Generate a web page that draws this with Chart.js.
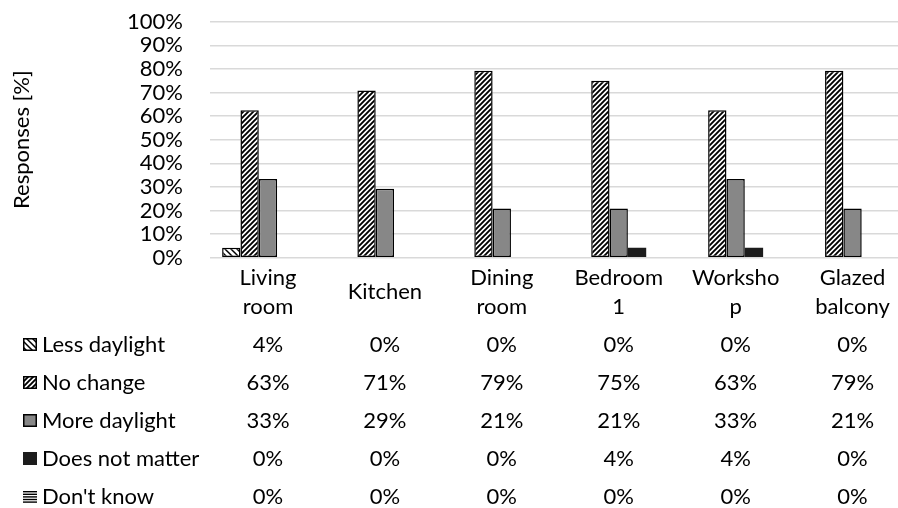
<!DOCTYPE html>
<html><head><meta charset="utf-8">
<script src="https://cdn.jsdelivr.net/npm/chart.js@4"></script>
<style>
html,body{margin:0;padding:0;overflow:hidden;background:#fff;width:898px;height:508px}
#wrap{width:920px;height:508px;}
</style></head><body><div id="wrap"><canvas id="c" width="920" height="508"></canvas></div>
<script>
// ---- data ----
const categories = [["Living","room"],["Kitchen"],["Dining","room"],["Bedroom","1"],["Worksho","p"],["Glazed","balcony"]];
const seriesNames = ["Less daylight","No change","More daylight","Does not matter","Don't know"];
const lessDaylight  = [4.2, 0, 0, 0, 0, 0];
const noChange      = [62.5, 70.8, 79.2, 75.0, 62.5, 79.2];
const moreDaylight  = [33.3, 29.2, 20.8, 20.8, 33.3, 20.8];
const doesNotMatter = [0, 0, 0, 4.2, 4.2, 0];
const dontKnow      = [0, 0, 0, 0, 0, 0];
const yTicks = [0,10,20,30,40,50,60,70,80,90,100];
const yTitle = "Responses [%]";

const FONT = 'Lato';
const FS = 22;

function diagPattern(size, width, dir){
  const c=document.createElement('canvas'); c.width=c.height=size;
  const g=c.getContext('2d'); g.fillStyle='#fff'; g.fillRect(0,0,size,size);
  g.strokeStyle='#000'; g.lineWidth=width; g.lineCap='square';
  g.beginPath();
  if(dir==='up'){
    g.moveTo(0,size); g.lineTo(size,0);
    g.moveTo(-size/2,size/2); g.lineTo(size/2,-size/2);
    g.moveTo(size/2,size*1.5); g.lineTo(size*1.5,size/2);
  } else {
    g.moveTo(0,0); g.lineTo(size,size);
    g.moveTo(-size/2,size/2); g.lineTo(size/2,size*1.5);
    g.moveTo(size/2,-size/2); g.lineTo(size*1.5,size/2);
  }
  g.stroke();
  return c;
}
function horizPattern(){
  const c=document.createElement('canvas'); c.width=4; c.height=3;
  const g=c.getContext('2d'); g.fillStyle='#fff'; g.fillRect(0,0,4,3);
  g.fillStyle='#000'; g.fillRect(0,0,4,1.5);
  return c;
}

function start(){
  const canvas=document.getElementById('c');
  const ctx=canvas.getContext('2d');
  const pLess = ctx.createPattern(diagPattern(6,1.5,'down'),'repeat');
  const pNo   = ctx.createPattern(diagPattern(5,1.9,'up'),'repeat');
  const pDk   = ctx.createPattern(horizPattern(),'repeat');
  const styles = [
    {bg:pLess, border:'#000', bw:1.5, key:'less'},
    {bg:pNo, border:'#000', bw:1.5, key:'no'},
    {bg:'#878787', border:'#000', bw:1.5, key:'more'},
    {bg:'#1c1c1c', border:'#1c1c1c', bw:0, key:'dnm'},
    {bg:pDk, border:'#000', bw:1.5, key:'dk'}
  ];
  const seriesData=[lessDaylight,noChange,moreDaylight,doesNotMatter,dontKnow];

  const tablePlugin={
    id:'tablePlugin',
    afterDraw(chart){
      const g=chart.ctx, xs=chart.scales.x;
      g.save();
      g.font=FS+'px '+FONT; g.fillStyle='#000'; g.textBaseline='middle'; g.textAlign='center';
      categories.forEach((lines,i)=>{
        const x=xs.getPixelForValue(i);
        lines.forEach((t,j)=>g.fillText(t,x,292+(j-(lines.length-1)/2)*29));
      });
      seriesData.forEach((arr,r)=>{
        const y=345+r*38;
        g.textAlign='center';
        arr.forEach((v,i)=>g.fillText(Math.round(v)+'%', xs.getPixelForValue(i), y));
        g.textAlign='left';
        g.fillText(seriesNames[r],42,y);
        const s=styles[r]; const kx=23, ky=y-7, kw=14, kh=13;
        if(s.key==='dk'){
          g.fillStyle='#000';
          for(let k=0;k<5;k++) g.fillRect(kx,ky+1+k*2.6,kw,1.4);
        } else if(s.key==='dnm'){
          g.fillStyle=s.bg; g.fillRect(kx,ky,kw,kh);
        } else {
          g.fillStyle=s.bg; g.fillRect(kx,ky,kw,kh);
          g.strokeStyle='#000'; g.lineWidth=1.5; g.strokeRect(kx+0.75,ky+0.75,kw-1.5,kh-1.5);
        }
        g.fillStyle='#000';
      });
      g.restore();
    }
  };

  new Chart(canvas,{
    type:'bar',
    data:{
      labels:categories.map(l=>l.join(' ')),
      datasets:seriesData.map((d,i)=>({
        label:seriesNames[i], data:d,
        backgroundColor:styles[i].bg, borderColor:styles[i].border, borderWidth:styles[i].bw,
        borderSkipped:false,
        categoryPercentage:0.784, barPercentage:1.0
      }))
    },
    options:{
      responsive:false, animation:false, devicePixelRatio:1,
      layout:{padding:{left:0,top:21.7,right:9,bottom:250.3}},
      plugins:{legend:{display:false},tooltip:{enabled:false}},
      scales:{
        x:{
          grid:{display:false}, border:{display:false},
          ticks:{display:false},
          afterFit(scale){ scale.height=0; scale.paddingLeft=0; scale.paddingRight=0; }
        },
        y:{
          min:0,max:100,
          afterBuildTicks(scale){ scale.ticks=yTicks.map(v=>({value:v})); },
          afterFit(scale){ scale.width=209.5; scale.paddingTop=0; scale.paddingBottom=0; },
          grid:{color:'#d9d9d9',lineWidth:1.5,drawTicks:false},
          border:{display:false},
          ticks:{autoSkip:false,padding:26.5,color:'#000',font:{family:FONT,size:FS,lineHeight:1.0},
                 callback:v=>v+'%'},
          title:{display:true,text:yTitle,color:'#000',font:{family:FONT,size:FS,lineHeight:1.2},padding:{top:9,bottom:0}}
        }
      }
    },
    plugins:[tablePlugin]
  });
}
if(document.fonts && document.fonts.load){
  document.fonts.load(FS+'px '+FONT).then(start,start);
} else start();
</script></body></html>
